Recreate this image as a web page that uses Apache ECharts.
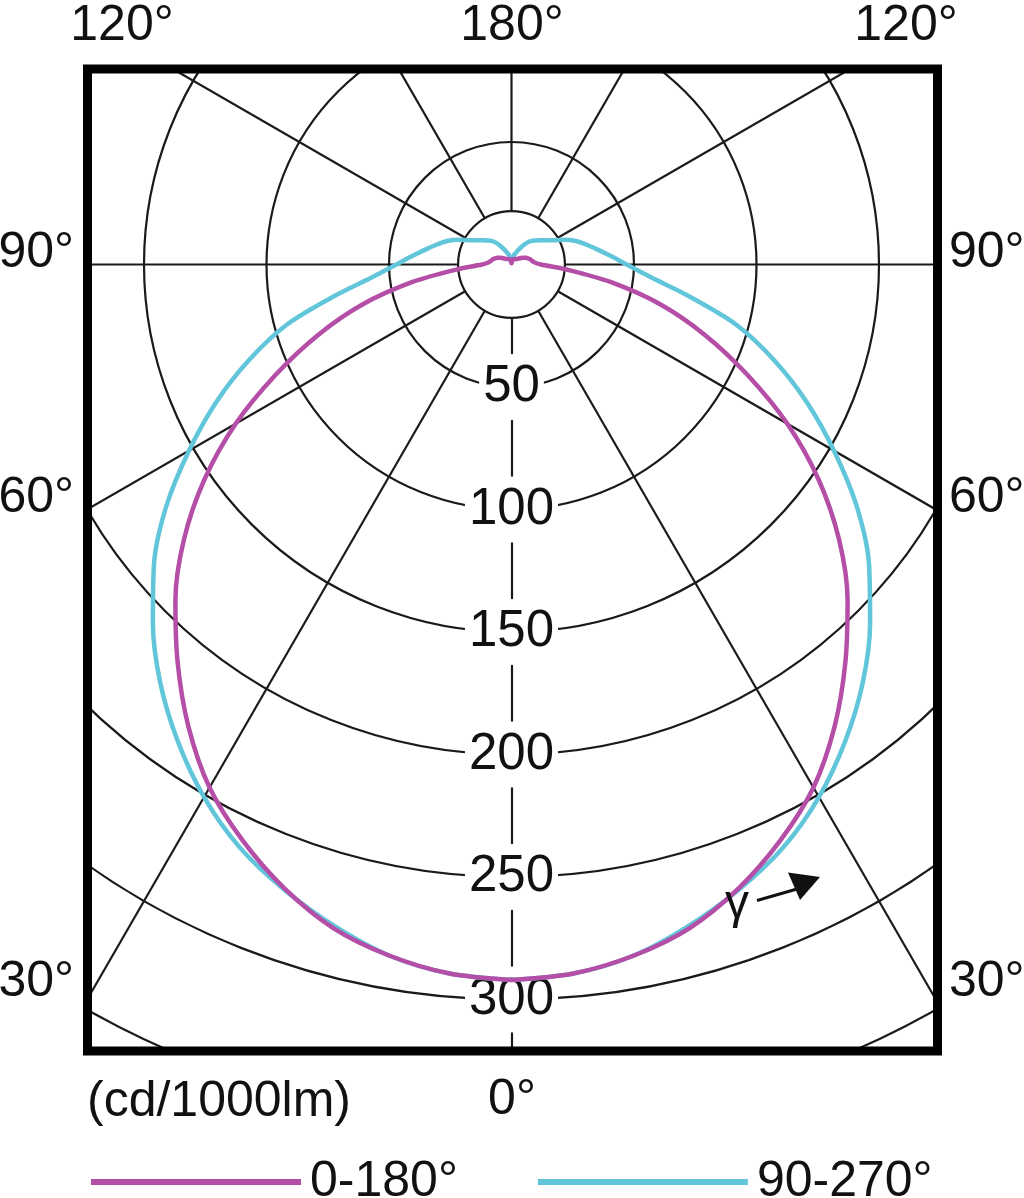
<!DOCTYPE html>
<html>
<head>
<meta charset="utf-8">
<script src="https://cdn.jsdelivr.net/npm/echarts@6/dist/echarts.min.js"></script>
<style>
html,body{margin:0;padding:0;background:#fff;}
#chart{width:1024px;height:1198px;}
</style>
</head>
<body>
<div id="chart"></div>
<script>
// ---- data (gamma angle in degrees, intensity in cd/1000lm) ----
const angleDeg = [0,5,10,15,20,25,30,35,40,45,50,55,60,65,70,75,80,85,90,
                  95,100,105,110,115,120,125,130,135,140,145,150,155,160,165,170,175,180];
const plane0_180 = [292,290.5,286.5,280.5,271,259.5,246.5,230,212,194,174.5,153,130,106,84,63,41,22,12,
                    9.5,8.5,8,7.2,6.5,5.5,4.6,3.8,3.2,2.9,2.7,2.5,2.4,2.3,2.2,1.8,0.8,0.5];
const plane90_270 = [292,290.5,286.5,279.5,271.5,262.5,251,237.5,223,207,190.5,172,152,133,114,95,73,56.5,47,
                     40.5,35.5,31.5,28,24,19.8,17.2,15.4,13.9,12.6,10.8,8.5,6.5,5,4,3,2.5,2];
const ringTicks = [50,100,150,200,250,300];
const seriesNames = ['0-180°','90-270°'];
const topLabels = ['120°','180°','120°'];
const sideLabels = ['90°','60°','30°'];
const unitLabel = '(cd/1000lm)';
const bottomLabel = '0°';
const gammaLabel = 'γ';

// ---- layout / style ----
const CX = 511.5, CY = 264.5;
const R_MAX = 400, R_PX = 980;
const HUB_CD = 21.8;
const FONT = "'Liberation Sans Narrow','Liberation Sans',Arial,sans-serif";
const FS = 50;
const INK = '#111';
const GRID = '#1a1a1a';
const MAGENTA = '#b54ea6';
const CYAN = '#62c6da';

function fullCurve(vals) {
  const out = [];
  for (let i = 0; i < angleDeg.length; i++) out.push([vals[i], angleDeg[i]]);
  for (let i = angleDeg.length - 2; i >= 0; i--) out.push([vals[i], 360 - angleDeg[i]]);
  return out;
}

const splitColors = ['rgba(0,0,0,0)'];
for (let i = 1; i < 12; i++) splitColors.push(GRID);

function txt(text, x, y, align) {
  return {
    type: 'text', z: 30,
    style: { text: text, x: x, y: y, font: FS + 'px ' + FONT, fill: INK,
             align: align, textAlign: align, verticalAlign: 'middle', textVerticalAlign: 'middle' }
  };
}

const chart = echarts.init(document.getElementById('chart'), null, {renderer: 'canvas'});
const hubPx = HUB_CD * R_PX / R_MAX;

const option = {
  backgroundColor: '#fff',
  animation: false,
  polar: { center: [CX, CY], radius: R_PX },
  angleAxis: {
    type: 'value', min: 0, max: 360, interval: 30,
    startAngle: -90, clockwise: false, z: 0,
    axisLine: { show: false }, axisTick: { show: false }, axisLabel: { show: false },
    splitLine: { show: true, lineStyle: { color: splitColors, width: 2.2 } }
  },
  radiusAxis: {
    type: 'value', min: 0, max: R_MAX, interval: 50, z: 0,
    axisLine: { show: true, lineStyle: { color: GRID, width: 2.2, type: [55, 67.5], dashOffset: 88.75 } },
    axisTick: { show: false },
    splitLine: { show: true, lineStyle: { color: GRID, width: 2.2 } },
    axisLabel: {
      show: true, margin: 0, rotate: 0, align: 'center', verticalAlign: 'middle',
      fontSize: 51, fontFamily: FONT, color: INK,
      backgroundColor: '#fff', padding: [5, 4, 3, 4],
      formatter: function (v) { return ringTicks.indexOf(v) >= 0 ? String(v) : ''; }
    }
  },
  legend: {
    left: 86, top: 1152, z: 40,
    icon: 'rect', itemWidth: 210, itemHeight: 6, itemGap: 80,
    data: [seriesNames[0], seriesNames[1]],
    selectedMode: false,
    textStyle: { fontSize: FS, fontFamily: FONT, color: INK, padding: [0, 0, 0, 4] }
  },
  series: [
    {
      name: seriesNames[1], type: 'line', coordinateSystem: 'polar',
      data: fullCurve(plane90_270), showSymbol: false, symbol: 'none', smooth: 0.3,
      color: CYAN, lineStyle: { color: CYAN, width: 4.5, join: 'round' }, z: 3
    },
    {
      name: seriesNames[0], type: 'line', coordinateSystem: 'polar',
      data: fullCurve(plane0_180), showSymbol: false, symbol: 'none', smooth: 0.3,
      color: MAGENTA, lineStyle: { color: MAGENTA, width: 4.5, join: 'round' }, z: 4
    }
  ],
  graphic: [
    // hub circle
    { type: 'circle', z: 1, shape: { cx: CX, cy: CY, r: hubPx },
      style: { fill: '#fff', stroke: GRID, lineWidth: 2.2 } },
    // white masks outside the frame
    { type: 'rect', z: 20, shape: { x: 0, y: 0, width: 1024, height: 69 }, style: { fill: '#fff' } },
    { type: 'rect', z: 20, shape: { x: 0, y: 1051, width: 1024, height: 147 }, style: { fill: '#fff' } },
    { type: 'rect', z: 20, shape: { x: 0, y: 0, width: 87.5, height: 1198 }, style: { fill: '#fff' } },
    { type: 'rect', z: 20, shape: { x: 937.5, y: 0, width: 86.5, height: 1198 }, style: { fill: '#fff' } },
    // frame
    { type: 'rect', z: 25, shape: { x: 87.5, y: 69, width: 850, height: 982 },
      style: { fill: 'none', stroke: '#000', lineWidth: 9 } },
    // outer labels
    txt(topLabels[0], 122, 26, 'center'),
    txt(topLabels[1], 512, 26, 'center'),
    txt(topLabels[2], 906, 26, 'center'),
    txt(sideLabels[0], 74, 253, 'right'),
    txt(sideLabels[1], 74, 498, 'right'),
    txt(sideLabels[2], 74, 982, 'right'),
    txt(sideLabels[0], 949, 253, 'left'),
    txt(sideLabels[1], 949, 498, 'left'),
    txt(sideLabels[2], 949, 982, 'left'),
    txt(unitLabel, 87, 1102, 'left'),
    txt(bottomLabel, 512, 1100, 'center'),
    // gamma annotation
    { type: 'text', z: 30, style: { text: gammaLabel, x: 737, y: 905, font: '48px ' + FONT, fill: INK,
      align: 'center', textAlign: 'center', verticalAlign: 'middle', textVerticalAlign: 'middle' } },
    { type: 'line', z: 30, shape: { x1: 757, y1: 900.5, x2: 797, y2: 889 },
      style: { stroke: INK, lineWidth: 3 } },
    { type: 'polygon', z: 30, shape: { points: [[820, 877], [788, 872.5], [800, 900]] },
      style: { fill: INK } }
  ]
};
chart.setOption(option);
</script>
</body>
</html>
